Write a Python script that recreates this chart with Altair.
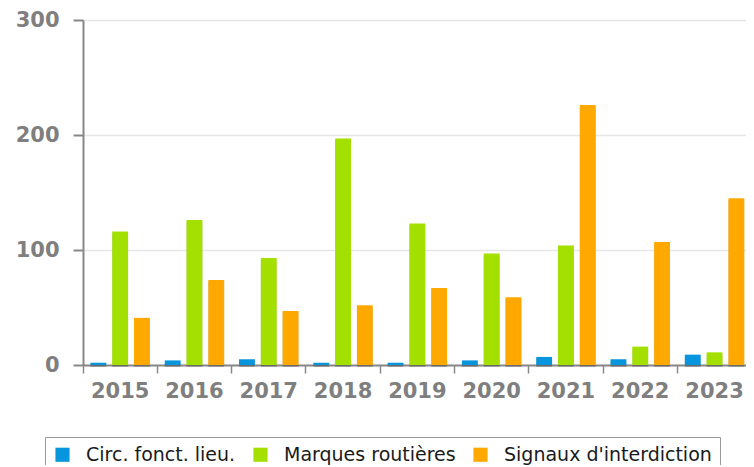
import altair as alt
import pandas as pd

years = ["2015", "2016", "2017", "2018", "2019", "2020", "2021", "2022", "2023"]
series = ["Circ. fonct. lieu.", "Marques routières", "Signaux d'interdiction"]
circ = [2, 4, 5, 2, 2, 4, 7, 5, 9]
marques = [116, 126, 93, 197, 123, 97, 104, 16, 11]
signaux = [41, 74, 47, 52, 67, 59, 226, 107, 145]
colors = ["#0796dd", "#a3e000", "#ffa800"]

rows = []
for i, y in enumerate(years):
    for s, vals in zip(series, [circ, marques, signaux]):
        rows.append({"year": y, "series": s, "value": vals[i]})
df = pd.DataFrame(rows)

x_enc = alt.X(
    "year:N",
    sort=years,
    scale=alt.Scale(paddingInner=0, paddingOuter=0, range=[0, 668.7]),
    axis=alt.Axis(
        title=None,
        labelAngle=0,
        bandPosition=0,
        labelFont="DejaVu Sans",
        labelFontWeight="bold",
        labelFontSize=21,
        labelColor="#7f7f7f",
        labelPadding=7,
        tickSize=8,
        tickWidth=1.5,
        tickColor="#888888",
        domainColor="#888888",
        domainWidth=2,
        grid=False,
    ),
)
xo_enc = alt.XOffset(
    "series:N",
    sort=series,
    scale=alt.Scale(domain=series, paddingInner=0.2727, paddingOuter=0.341),
)
y_enc = alt.Y(
    "value:Q",
    scale=alt.Scale(domain=[0, 300], nice=False),
    axis=alt.Axis(
        title=None,
        values=[0, 100, 200, 300],
        labelFont="DejaVu Sans",
        labelFontWeight="bold",
        labelFontSize=21,
        labelColor="#7f7f7f",
        labelPadding=14,
        tickSize=10,
        tickWidth=2,
        tickColor="#888888",
        domainColor="#888888",
        domainWidth=2,
        gridColor="#e6e6e6",
        gridWidth=1.5,
    ),
)

shadow = alt.Chart(df).mark_bar(
    color="#000000", opacity=0.22, xOffset=2.5, yOffset=2
).encode(x=x_enc, xOffset=xo_enc, y=y_enc)

bars = alt.Chart(df).mark_bar().encode(
    x=x_enc,
    xOffset=xo_enc,
    y=y_enc,
    color=alt.Color(
        "series:N",
        sort=series,
        scale=alt.Scale(domain=series, range=colors),
        legend=alt.Legend(
            title=None,
            orient="none",
            direction="horizontal",
            legendX=-38,
            legendY=417,
            padding=8,
            strokeColor="#999999",
            fillColor="#ffffff",
            symbolType="square",
            symbolSize=200,
            symbolStrokeWidth=0,
            symbolOpacity=1,
            labelFont="DejaVu Sans",
            labelFontSize=19,
            labelColor="#1a1a1a",
            labelOffset=14,
            labelLimit=0,
            columnPadding=15,
        ),
    ),
)

chart = (
    alt.layer(shadow, bars)
    .properties(
        width=663,
        height=345,
        padding={"left": 75, "top": 12, "right": 0, "bottom": 100},
        autosize=alt.AutoSizeParams(type="none"),
    )
    .configure_view(stroke=None)
)

chart.save("out.html", embed_options={"renderer": "svg", "actions": False})
